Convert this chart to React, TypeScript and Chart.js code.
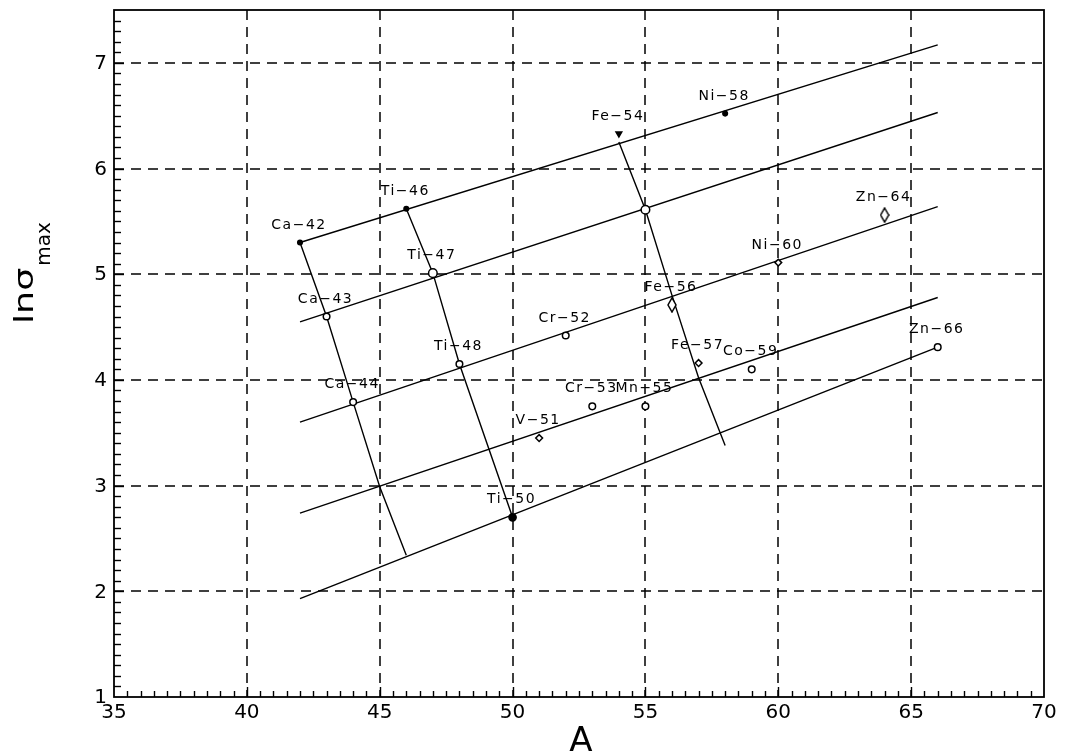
import { useEffect, useRef } from 'react';
import { Chart, registerables } from 'chart.js';

Chart.register(...registerables);

// Nuclides: mass number A and ln of the peak cross-section
const nuclides = ['Ca-42', 'Ca-43', 'Ca-44', 'Ti-46', 'Ti-47', 'Ti-48', 'Ti-50', 'V-51', 'Cr-52', 'Cr-53', 'Fe-54', '', 'Mn-55', 'Fe-56', 'Fe-57', 'Ni-58', 'Co-59', 'Ni-60', 'Zn-64', 'Zn-66'];
const massNumber = [42, 43, 44, 46, 47, 48, 50, 51, 52, 53, 54, 55, 55, 56, 57, 58, 59, 60, 64, 66];
const lnSigmaMax = [5.30, 4.60, 3.79, 5.62, 5.01, 4.15, 2.70, 3.45, 4.42, 3.75, 6.33, 5.61, 3.75, 4.71, 4.16, 6.52, 4.10, 5.11, 5.56, 4.31];

// Parallel trend lines, all running from A = 42 to A = 66
const trendA = [42, 66];
const trend1 = [5.30, 7.17];
const trend2 = [4.55, 6.53];
const trend3 = [3.60, 5.64];
const trend4 = [2.74, 4.78];
const trend5 = [1.93, 4.31];

// Isotope chains crossing the trend lines
const caChainA = [42, 43, 44, 45, 46];
const caChainLn = [5.30, 4.60, 3.79, 2.99, 2.34];
const tiChainA = [46, 47, 48, 50];
const tiChainLn = [5.62, 5.01, 4.15, 2.70];
const feChainA = [54, 55, 56, 57, 58];
const feChainLn = [6.25, 5.61, 4.80, 4.02, 3.38];

// Axis ticks
const aTicks = [35, 40, 45, 50, 55, 60, 65, 70];
const lnTicks = [1, 2, 3, 4, 5, 6, 7];
const aGrid = [40, 45, 50, 55, 60, 65];
const lnGrid = [2, 3, 4, 5, 6, 7];

// Marker look for each nuclide, by index
const markerShape = ['dot', 'ring', 'ring', 'dot', 'bigRing', 'ring', 'bigDot', 'diamond', 'ring', 'ring', 'triangle', 'bigRing', 'ring', 'tallDiamond', 'diamond', 'dot', 'ring', 'diamond', 'tallDiamond', 'ring'];

const FONT = '"DejaVu Sans", "Liberation Sans", sans-serif';

function makeTallDiamond(): HTMLCanvasElement {
  const c = document.createElement('canvas');
  c.width = 10;
  c.height = 16;
  const g = c.getContext('2d')!;
  g.fillStyle = '#fff';
  g.strokeStyle = '#000';
  g.lineWidth = 1.5;
  g.beginPath();
  g.moveTo(5, 1);
  g.lineTo(9, 8);
  g.lineTo(5, 15);
  g.lineTo(1, 8);
  g.closePath();
  g.fill();
  g.stroke();
  return c;
}

const sortOf = (i: number) => markerShape[i];

function seg(ctx: CanvasRenderingContext2D, x1: number, y1: number, x2: number, y2: number) {
  ctx.beginPath();
  ctx.moveTo(x1, y1);
  ctx.lineTo(x2, y2);
  ctx.stroke();
}

const decorations = {
  id: 'decorations',
  beforeDatasetsDraw(chart: any) {
    const { ctx, chartArea: a, scales } = chart;
    const x = scales.x;
    const y = scales.y;
    ctx.save();
    ctx.strokeStyle = '#000';
    ctx.lineWidth = 1.5;
    ctx.setLineDash([10, 7]);
    for (const v of aGrid) {
      const px = Math.round(x.getPixelForValue(v));
      seg(ctx, px, a.top, px, a.bottom);
    }
    for (const v of lnGrid) {
      const py = Math.round(y.getPixelForValue(v));
      seg(ctx, a.left, py, a.right, py);
    }
    ctx.restore();
  },
  afterDatasetsDraw(chart: any) {
    const { ctx } = chart;
    const meta = chart.getDatasetMeta(0);
    ctx.save();
    ctx.fillStyle = '#000';
    ctx.font = `14px ${FONT}`;
    (ctx as any).letterSpacing = '1.5px';
    ctx.textAlign = 'center';
    ctx.textBaseline = 'alphabetic';
    nuclides.forEach((name, i) => {
      if (!name) return;
      const el = meta.data[i];
      ctx.fillText(name.replace('-', '\u2212'), el.x - 1, el.y - 14);
    });
    ctx.restore();
  },
  afterDraw(chart: any) {
    const { ctx, chartArea: a, scales } = chart;
    const x = scales.x;
    const y = scales.y;
    ctx.save();
    ctx.strokeStyle = '#000';
    ctx.fillStyle = '#000';
    ctx.setLineDash([]);

    // inward ticks on the bottom axis, every 0.5
    ctx.lineWidth = 1.4;
    for (let k = 71; k < 140; k++) {
      const v = k / 2;
      const px = Math.round(x.getPixelForValue(v)) + 0.5;
      const len = k % 10 === 0 ? 10 : 6;
      seg(ctx, px, a.bottom, px, a.bottom - len);
    }
    // inward ticks on the left axis, every 0.1
    for (let k = 11; k < 75; k++) {
      const v = k / 10;
      const py = Math.round(y.getPixelForValue(v)) + 0.5;
      const len = k % 10 === 0 ? 10 : 7;
      seg(ctx, a.left, py, a.left + len, py);
    }

    // frame
    ctx.lineWidth = 1.8;
    ctx.strokeRect(a.left, a.top, a.right - a.left, a.bottom - a.top);

    // tick labels
    ctx.font = `20px ${FONT}`;
    ctx.textAlign = 'center';
    ctx.textBaseline = 'alphabetic';
    for (const v of aTicks) {
      ctx.fillText(String(v), x.getPixelForValue(v), a.bottom + 21);
    }
    ctx.textAlign = 'right';
    ctx.textBaseline = 'middle';
    for (const v of lnTicks) {
      ctx.fillText(String(v), a.left - 7, y.getPixelForValue(v) + 1);
    }

    // x title
    ctx.font = `34px ${FONT}`;
    ctx.textAlign = 'center';
    ctx.textBaseline = 'alphabetic';
    ctx.fillText('A', (a.left + a.right) / 2 + 2, 751);

    // y title: ln σ with subscript "max"
    ctx.translate(33, 324);
    ctx.rotate(-Math.PI / 2);
    ctx.textAlign = 'left';
    ctx.font = `26px ${FONT}`;
    const main = 'ln\u03c3';
    const w = ctx.measureText(main).width;
    ctx.save();
    ctx.scale(1.4, 1);
    ctx.fillText(main, 0, 0);
    ctx.restore();
    ctx.font = `20px ${FONT}`;
    ctx.fillText('max', w * 1.4 + 2, 17);
    ctx.restore();
  },
};

export default function App() {
  const ref = useRef<HTMLCanvasElement>(null);

  useEffect(() => {
    document.body.style.margin = '0';
    const canvas = ref.current!;
    const tallDiamond = makeTallDiamond();

    const line = (xs: number[], ys: number[]) => ({
      type: 'line' as const,
      data: xs.map((a, i) => ({ x: a, y: ys[i] })),
      borderColor: '#000',
      borderWidth: 1.4,
      pointRadius: 0,
      fill: false,
      tension: 0,
      order: 1,
    });

    const chart = new Chart(canvas, {
      type: 'scatter',
      data: {
        datasets: [
          {
            type: 'scatter',
            data: massNumber.map((a, i) => ({ x: a, y: lnSigmaMax[i] })),
            order: 0,
            pointStyle: (c: any) => {
              const s = sortOf(c.dataIndex);
              if (s === 'triangle') return 'triangle';
              if (s === 'diamond') return 'rectRot';
              if (s === 'tallDiamond') return tallDiamond;
              return 'circle';
            },
            pointRotation: (c: any) => (sortOf(c.dataIndex) === 'triangle' ? 180 : 0),
            pointRadius: (c: any) => {
              const s = sortOf(c.dataIndex);
              if (s === 'dot') return 2.3;
              if (s === 'bigDot') return 3.6;
              if (s === 'bigRing') return 4.3;
              if (s === 'triangle') return 3.3;
              if (s === 'diamond') return 3.4;
              return 3.3;
            },
            pointBackgroundColor: (c: any) => {
              const s = sortOf(c.dataIndex);
              return s === 'dot' || s === 'bigDot' || s === 'triangle' ? '#000' : '#fff';
            },
            pointBorderColor: '#000',
            pointBorderWidth: 1.5,
          } as any,
          line(trendA, trend1),
          line(trendA, trend2),
          line(trendA, trend3),
          line(trendA, trend4),
          line(trendA, trend5),
          line(caChainA, caChainLn),
          line(tiChainA, tiChainLn),
          line(feChainA, feChainLn),
        ],
      },
      options: {
        responsive: false,
        animation: false,
        events: [],
        layout: { padding: { left: 114, right: 21, top: 10, bottom: 58 } },
        plugins: { legend: { display: false }, tooltip: { enabled: false } },
        scales: {
          x: { type: 'linear', min: 35, max: 70, display: false },
          y: { type: 'linear', min: 1, max: 7.5, display: false },
        },
      },
      plugins: [decorations],
    });

    return () => chart.destroy();
  }, []);

  return (
    <div style={{ width: 1065, height: 755, background: '#fff' }}>
      <canvas ref={ref} width={1065} height={755} style={{ display: 'block' }} />
    </div>
  );
}
